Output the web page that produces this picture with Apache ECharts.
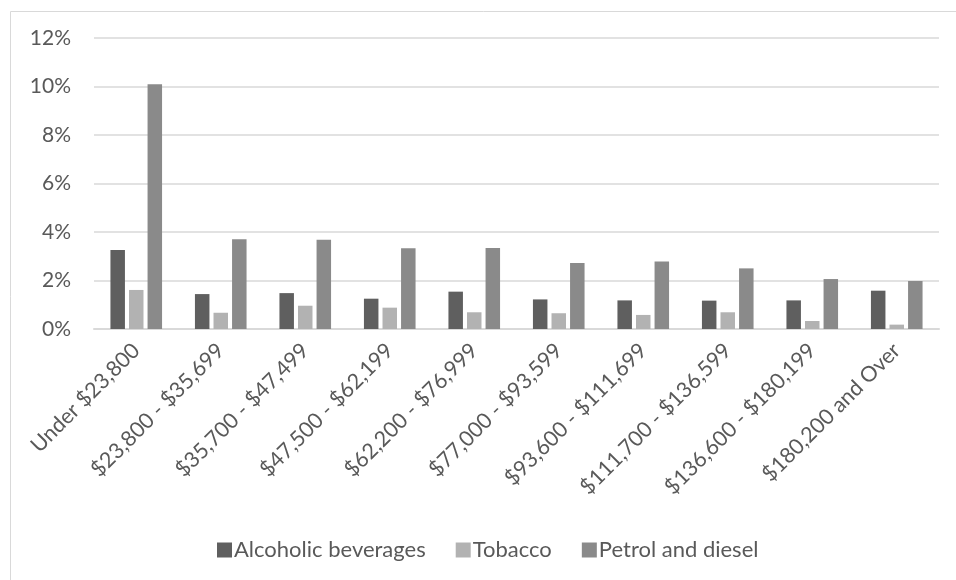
<!DOCTYPE html>
<html>
<head>
<meta charset="utf-8">
<script src="https://cdn.jsdelivr.net/npm/echarts@6/dist/echarts.min.js"></script>
<style>
  html, body { margin: 0; padding: 0; background: #fff; }
  #chart { width: 956px; height: 580px; }
</style>
</head>
<body>
<div id="chart"></div>
<script>
const categories = [
  'Under $23,800', '$23,800 - $35,699', '$35,700 - $47,499', '$47,500 - $62,199',
  '$62,200 - $76,999', '$77,000 - $93,599', '$93,600 - $111,699', '$111,700 - $136,599',
  '$136,600 - $180,199', '$180,200 and Over'
]
const alcohol = [3.26, 1.44, 1.48, 1.25, 1.54, 1.22, 1.18, 1.17, 1.18, 1.58]
const tobacco = [1.61, 0.67, 0.96, 0.88, 0.69, 0.65, 0.58, 0.69, 0.33, 0.18]
const petrol = [10.09, 3.70, 3.68, 3.33, 3.34, 2.72, 2.78, 2.50, 2.06, 1.98]

const textColor = '#595959'
const font = 'Lato, "Liberation Sans", sans-serif'

const chart = echarts.init(document.getElementById('chart'))

const barSeries = (name, data, color) => ({
  name,
  type: 'bar',
  data,
  barWidth: 14.5,
  barGap: '28%',
  itemStyle: { color },
  emphasis: { disabled: true }
})

chart.setOption({
  animation: false,
  textStyle: { fontFamily: font, color: textColor },
  graphic: [{
    type: 'rect',
    left: 8,
    top: 9,
    shape: { width: 1000, height: 700 },
    style: { fill: 'none', stroke: '#d9d9d9', lineWidth: 1 },
    silent: true
  }],
  grid: { left: 94, right: 17, top: 38, bottom: 251 },
  legend: {
    left: 212,
    top: 534,
    itemWidth: 15,
    itemHeight: 15,
    itemGap: 30,
    icon: 'rect',
    textStyle: { fontFamily: font, fontSize: 22, color: textColor, padding: [0, 0, 0, -3] },
    data: ['Alcoholic beverages', 'Tobacco', 'Petrol and diesel']
  },
  xAxis: {
    type: 'category',
    data: categories,
    axisLine: { lineStyle: { color: '#d9d9d9', width: 2 } },
    axisTick: { show: false },
    axisLabel: {
      rotate: 45,
      interval: 0,
      margin: 18,
      fontFamily: font,
      fontSize: 21.5,
      color: textColor
    }
  },
  yAxis: {
    type: 'value',
    min: 0,
    max: 12,
    interval: 2,
    axisLine: { show: false },
    axisTick: { show: false },
    splitLine: { lineStyle: { color: '#d9d9d9', width: 1.5 } },
    axisLabel: {
      formatter: '{value}%',
      margin: 23,
      fontFamily: font,
      fontSize: 21,
      color: textColor
    }
  },
  series: [
    barSeries('Alcoholic beverages', alcohol, '#5f5f5f'),
    barSeries('Tobacco', tobacco, '#b2b2b2'),
    barSeries('Petrol and diesel', petrol, '#8a8a8a')
  ]
})
</script>
</body>
</html>
